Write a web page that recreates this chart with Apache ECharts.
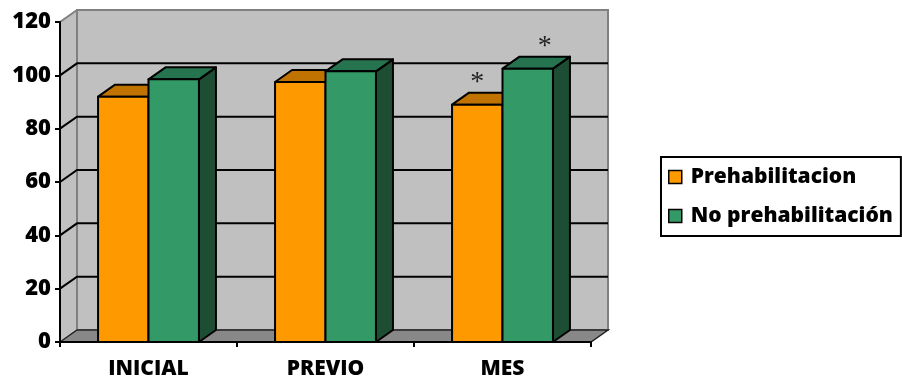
<!DOCTYPE html>
<html>
<head>
<meta charset="utf-8">
<script src="https://cdn.jsdelivr.net/npm/echarts@6/dist/echarts.min.js"></script>
<style>html,body{margin:0;padding:0;background:#fff;}#c{width:902px;height:385px;}</style>
</head>
<body>
<div id="c"></div>
<script>
const categories = ['INICIAL', 'PREVIO', 'MES'];
const prehabilitacion = [92, 97.5, 89];
const noPrehabilitacion = [98.5, 101.5, 102.5];
const sigPrehab = ['', '', '*'];
const sigNoPrehab = ['', '', '*'];
const seriesNames = ['Prehabilitacion', 'No prehabilitación'];
const yMin = 0, yMax = 120, yStep = 20;

const DX = 17, DY = -12;
const FONT = 'Open Sans';
const palettes = [
  { front: '#FF9900', top: '#C07300', side: '#A86400' },
  { front: '#339966', top: '#267350', side: '#1D4D33' }
];

const chart = echarts.init(document.getElementById('c'), null, { renderer: 'canvas' });

function wallsRender(params, api) {
  const band = api.size([1, 0])[0];
  const c0 = api.coord([0, yMin]);
  const cTop = api.coord([0, yMax]);
  const cLast = api.coord([categories.length - 1, yMin]);
  const L = c0[0] - band / 2;
  const R = cLast[0] + band / 2;
  const Y0 = c0[1];
  const YT = cTop[1];
  const children = [];
  children.push({ type: 'polygon', shape: { points: [[L, YT], [L + DX, YT + DY], [L + DX, Y0 + DY], [L, Y0]] },
    style: { fill: '#C0C0C0' } });
  children.push({ type: 'rect', shape: { x: L + DX, y: YT + DY, width: R - L, height: Y0 - YT },
    style: { fill: '#C0C0C0', stroke: '#808080', lineWidth: 2 } });
  children.push({ type: 'line', shape: { x1: L, y1: YT, x2: L + DX, y2: YT + DY },
    style: { stroke: '#808080', lineWidth: 2 } });
  for (let v = yMin + yStep; v < yMax; v += yStep) {
    const y = api.coord([0, v])[1];
    children.push({ type: 'polyline', shape: { points: [[L, y], [L + DX, y + DY], [R + DX, y + DY]] },
      style: { stroke: '#000', lineWidth: 2, fill: null } });
  }
  children.push({ type: 'polygon', shape: { points: [[L, Y0], [L + DX, Y0 + DY], [R + DX, Y0 + DY], [R, Y0]] },
    style: { fill: '#888888', stroke: '#222', lineWidth: 1.5 } });
  return { type: 'group', children };
}

function barRender(sIdx, sig) {
  const pal = palettes[sIdx];
  return function (params, api) {
    const i = api.value(0);
    const v = api.value(1);
    const base = api.coord([i, 0]);
    const top = api.coord([i, v]);
    const band = api.size([1, 0])[0];
    const w = band * 0.285;
    const x = base[0] + (sIdx === 0 ? -w : 0);
    const y0 = base[1];
    const yt = top[1];
    const st = { stroke: '#000', lineWidth: 2, lineJoin: 'round' };
    const children = [
      { type: 'polygon', shape: { points: [[x + w, yt], [x + w + DX, yt + DY], [x + w + DX, y0 + DY], [x + w, y0]] },
        style: Object.assign({ fill: pal.side }, st) },
      { type: 'polygon', shape: { points: [[x, yt], [x + DX, yt + DY], [x + w + DX, yt + DY], [x + w, yt]] },
        style: Object.assign({ fill: pal.top }, st) },
      { type: 'rect', shape: { x: x, y: yt, width: w, height: y0 - yt },
        style: Object.assign({ fill: pal.front }, st) }
    ];
    if (sig[i]) {
      children.push({ type: 'text', style: { text: sig[i], x: x + w / 2 + (sIdx === 1 ? DX : 0), y: yt - 22,
        align: 'center', verticalAlign: 'middle', font: '28px "Liberation Serif"', fill: '#222' } });
    }
    return { type: 'group', children };
  };
}

chart.setOption({
  animation: false,
  grid: { left: 60, right: 311, top: 22, bottom: 43 },
  xAxis: {
    type: 'category', data: categories, z: 10,
    axisLine: { lineStyle: { color: '#000', width: 2 } },
    axisTick: { show: true, length: 5, lineStyle: { color: '#000', width: 2 } },
    axisLabel: { color: '#000', fontFamily: FONT, fontWeight: 800, fontSize: 21, margin: 17 },
    splitLine: { show: false }
  },
  yAxis: {
    type: 'value', min: yMin, max: yMax, interval: yStep, z: 10,
    axisLine: { show: true, lineStyle: { color: '#000', width: 2 } },
    axisTick: { show: true, length: 5, lineStyle: { color: '#000', width: 2 } },
    axisLabel: { color: '#000', fontFamily: FONT, fontWeight: 800, fontSize: 22, margin: 9 },
    splitLine: { show: false }
  },
  legend: {
    orient: 'vertical', left: 661, top: 157,
    borderColor: '#000', borderWidth: 2, backgroundColor: '#fff',
    padding: [9, 8, 9, 7],
    itemWidth: 13, itemHeight: 13, itemGap: 17,
    icon: 'rect',
    textStyle: { color: '#000', fontFamily: FONT, fontWeight: 800, fontSize: 21, lineHeight: 22, padding: [0, 0, 0, 4] },
    data: [
      { name: seriesNames[0], itemStyle: { color: palettes[0].front, borderColor: '#000', borderWidth: 1.5 } },
      { name: seriesNames[1], itemStyle: { color: palettes[1].front, borderColor: '#000', borderWidth: 1.5 } }
    ]
  },
  series: [
    { type: 'custom', name: 'walls', z: 1, silent: true, renderItem: wallsRender, data: [[0, 0]] },
    { type: 'custom', name: seriesNames[0], z: 2, itemStyle: { color: palettes[0].front },
      renderItem: barRender(0, sigPrehab), data: prehabilitacion.map((v, i) => [i, v]) },
    { type: 'custom', name: seriesNames[1], z: 3, itemStyle: { color: palettes[1].front },
      renderItem: barRender(1, sigNoPrehab), data: noPrehabilitacion.map((v, i) => [i, v]) }
  ]
});
</script>
</body>
</html>
